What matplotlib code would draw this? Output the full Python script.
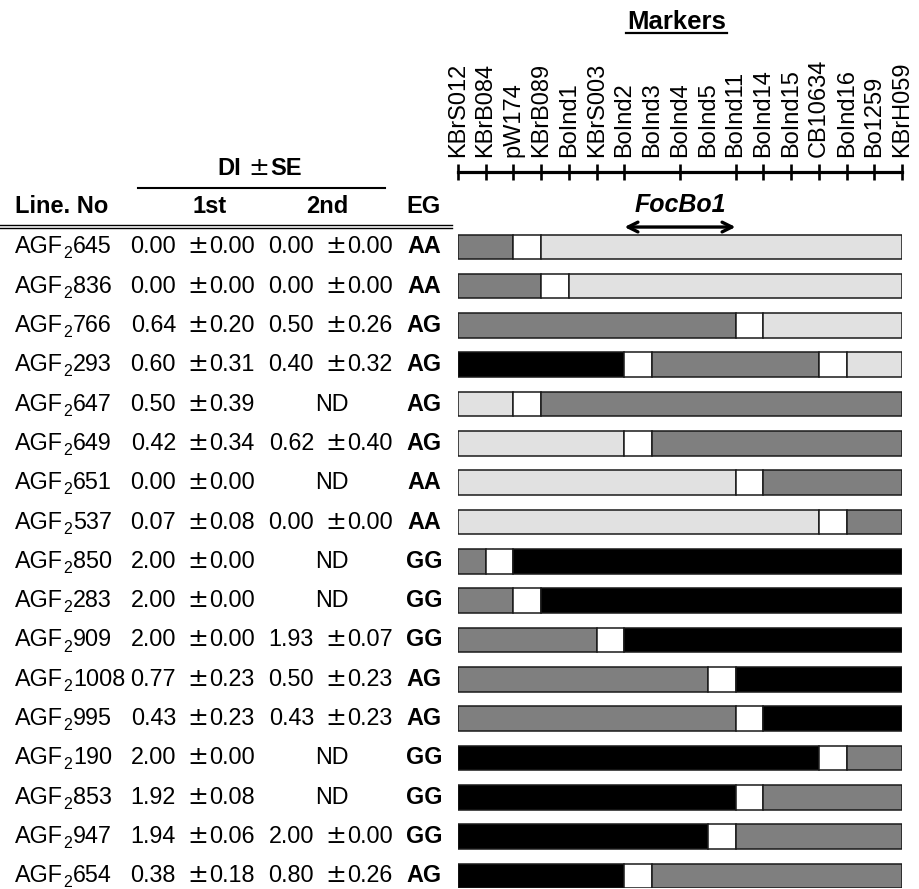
import matplotlib
matplotlib.use("Agg")
import matplotlib.pyplot as plt
from matplotlib import transforms

plt.rcParams['font.family'] = ['Liberation Sans', 'DejaVu Sans']

# ---------------- data ----------------
markers = ['KBrS012', 'KBrB084', 'pW174', 'KBrB089', 'BoInd1', 'KBrS003',
           'BoInd2', 'BoInd3', 'BoInd4', 'BoInd5', 'BoInd11', 'BoInd14',
           'BoInd15', 'CB10634', 'BoInd16', 'Bo1259', 'KBrH059']
tick_markers = [0, 1, 2, 3, 4, 5, 6, 8, 10, 11, 12, 13, 14, 15, 16]
locus_start, locus_end = 6, 10

line_prefix, line_sub = 'AGF', '2'
line_ids = ['645', '836', '766', '293', '647', '649', '651', '537', '850',
            '283', '909', '1008', '995', '190', '853', '947', '654']
di_1st = ['0.00 ±0.00', '0.00 ±0.00', '0.64 ±0.20', '0.60 ±0.31', '0.50 ±0.39',
          '0.42 ±0.34', '0.00 ±0.00', '0.07 ±0.08', '2.00 ±0.00', '2.00 ±0.00',
          '2.00 ±0.00', '0.77 ±0.23', '0.43 ±0.23', '2.00 ±0.00', '1.92 ±0.08',
          '1.94 ±0.06', '0.38 ±0.18']
di_2nd = ['0.00 ±0.00', '0.00 ±0.00', '0.50 ±0.26', '0.40 ±0.32', 'ND',
          '0.62 ±0.40', 'ND', '0.00 ±0.00', 'ND', 'ND',
          '1.93 ±0.07', '0.50 ±0.23', '0.43 ±0.23', 'ND', 'ND',
          '2.00 ±0.00', '0.80 ±0.26']
eg = ['AA', 'AA', 'AG', 'AG', 'AG', 'AG', 'AA', 'AA', 'GG', 'GG', 'GG',
      'AG', 'AG', 'GG', 'GG', 'GG', 'AG']

# breakpoints (marker index) and genotype of each segment ('R' = recombination interval)
seg_bounds = [[0, 2, 3, 16], [0, 3, 4, 16], [0, 10, 11, 16], [0, 6, 7, 13, 14, 16],
              [0, 2, 3, 16], [0, 6, 7, 16], [0, 10, 11, 16], [0, 13, 14, 16],
              [0, 1, 2, 16], [0, 2, 3, 16], [0, 5, 6, 16], [0, 9, 10, 16],
              [0, 10, 11, 16], [0, 13, 14, 16], [0, 10, 11, 16], [0, 9, 10, 16],
              [0, 6, 7, 16]]
seg_geno = [['AG', 'R', 'AA'], ['AG', 'R', 'AA'], ['AG', 'R', 'AA'],
            ['GG', 'R', 'AG', 'R', 'AA'], ['AA', 'R', 'AG'], ['AA', 'R', 'AG'],
            ['AA', 'R', 'AG'], ['AA', 'R', 'AG'], ['AG', 'R', 'GG'],
            ['AG', 'R', 'GG'], ['AG', 'R', 'GG'], ['AG', 'R', 'GG'],
            ['AG', 'R', 'GG'], ['GG', 'R', 'AG'], ['GG', 'R', 'AG'],
            ['GG', 'R', 'AG'], ['GG', 'R', 'AG']]
geno_colors = {'AA': '#e1e1e1', 'AG': '#7f7f7f', 'GG': '#000000', 'R': '#ffffff'}

# ---------------- figure ----------------
W, H = 920, 889
fig = plt.figure(figsize=(W / 100, H / 100), dpi=100)

# overlay in pixel coordinates for table layout
ov = fig.add_axes([0, 0, 1, 1])
ov.set_xlim(0, W)
ov.set_ylim(H, 0)
ov.axis('off')

# bar axes
x0_px, x1_px = 457.8, 902.2
row0_px, pitch = 246.7, 39.33
ytop, ybot = -0.5, 16.3
top_px = row0_px + ytop * pitch
bot_px = row0_px + ybot * pitch
ax = fig.add_axes([x0_px / W, 1 - bot_px / H, (x1_px - x0_px) / W, (bot_px - top_px) / H])
ax.set_xlim(0, 16)
ax.set_ylim(ybot, ytop)
ax.axis('off')

for i, (bounds, genos) in enumerate(zip(seg_bounds, seg_geno)):
    for s, e, g in zip(bounds[:-1], bounds[1:], genos):
        ax.barh(i, e - s, left=s, height=0.62, color=geno_colors[g],
                edgecolor='#1a1a1a', linewidth=1.1)

# locus arrow and label
ax.annotate('', xy=(locus_start, -0.5), xytext=(locus_end, -0.5),
            arrowprops=dict(arrowstyle='<->,head_length=0.7,head_width=0.35',
                            lw=2.4, color='black', shrinkA=0, shrinkB=0),
            annotation_clip=False)
ax.text((locus_start + locus_end) / 2, -0.875, 'FocBo1', fontsize=18,
        fontweight='bold', fontstyle='italic', ha='center', va='baseline',
        clip_on=False)

# marker axis
axis_px = 172
am = fig.add_axes([x0_px / W, 1 - axis_px / H, (x1_px - x0_px) / W, 1e-5])
am.set_xlim(0, 16)
am.set_yticks([])
for sp in ['bottom', 'left', 'right']:
    am.spines[sp].set_visible(False)
am.spines['top'].set_linewidth(2.3)
am.xaxis.remove_overlapping_locs = False
am.xaxis.set_ticks_position('top')
am.set_xticks(range(len(markers)))
am.set_xticklabels(markers, rotation=90, fontsize=17)
am.tick_params(axis='x', which='major', length=0, pad=10.5, top=True, bottom=False,
               labeltop=True, labelbottom=False)
am.set_xticks(tick_markers, minor=True)
am.tick_params(axis='x', which='minor', length=11, width=1.9, direction='inout',
               top=True, bottom=False, labeltop=False, labelbottom=False)

# Markers title
ov.text(676.7, 29, 'Markers', fontsize=18.5, fontweight='bold', ha='center', va='baseline')
ov.plot([626, 727], [32.5, 32.5], color='black', lw=1.6)

# table headers
ov.text(241, 175, 'DI', fontsize=17, fontweight='bold', ha='right', va='baseline')
ov.text(258.5, 175, '±', fontsize=18, family='DejaVu Sans', ha='center', va='baseline')
ov.text(270.5, 175, 'SE', fontsize=17, fontweight='bold', ha='left', va='baseline')
ov.plot([138, 385], [188, 188], color='black', lw=1.5)
ov.text(15, 213, 'Line. No', fontsize=17, fontweight='bold', ha='left', va='baseline')
ov.text(210, 213, '1st', fontsize=17, fontweight='bold', ha='center', va='baseline')
ov.text(327, 213, '2nd', fontsize=17, fontweight='bold', ha='center', va='baseline')
ov.text(424, 213, 'EG', fontsize=17, fontweight='bold', ha='center', va='baseline')
ov.plot([0, 452], [224.6, 224.6], color='black', lw=1.0)
ov.plot([0, 452], [228.2, 228.2], color='black', lw=1.0)

# table rows (x in pixels, y in row units)
trans = transforms.blended_transform_factory(ov.transData, ax.transData)
trans = transforms.offset_copy(trans, fig=fig, x=0, y=-6.5 * 72 / 100, units='points')
trans_sub = transforms.offset_copy(trans, fig=fig, x=0, y=-5.0 * 72 / 100, units='points')
fs = 16.8


def draw_value(txt, x_mean_right, x_pm, x_se_left, x_center, i):
    if '±' in txt:
        mean, se = txt.split('±')
        ov.text(x_mean_right, i, mean.strip(), fontsize=fs, ha='right', va='baseline',
                transform=trans)
        ov.text(x_pm, i, '±', fontsize=18, family='DejaVu Sans', ha='center',
                va='baseline', transform=trans)
        ov.text(x_se_left, i, se.strip(), fontsize=fs, ha='left', va='baseline',
                transform=trans)
    else:
        ov.text(x_center, i, txt, fontsize=fs, ha='center', va='baseline', transform=trans)


for i in range(len(line_ids)):
    ov.text(15, i, line_prefix, fontsize=fs, ha='left', va='baseline', transform=trans)
    ov.text(63.3, i, line_sub, fontsize=11.5, ha='left', va='baseline', transform=trans_sub)
    ov.text(73.2, i, line_ids[i], fontsize=fs, ha='left', va='baseline', transform=trans)
    draw_value(di_1st[i], 176, 198, 209.5, 193.5, i)
    draw_value(di_2nd[i], 314, 335.5, 347, 332, i)
    ov.text(424, i, eg[i], fontsize=fs, fontweight='bold', ha='center',
            va='baseline', transform=trans)

fig.savefig('out.png', dpi=100)
